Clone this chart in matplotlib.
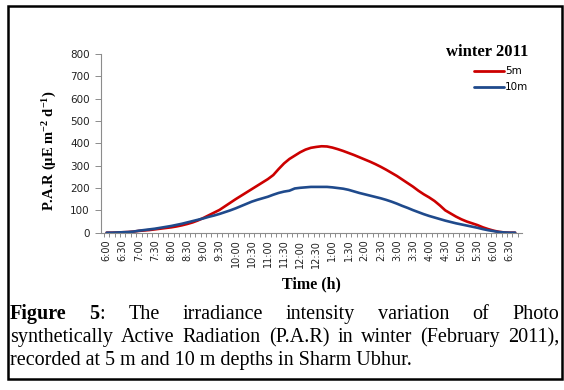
import matplotlib
matplotlib.use('Agg')
import matplotlib.pyplot as plt
from matplotlib.patches import Rectangle
import numpy as np

######################################################################################################################
# dados (intervalo de 10 min, 6:00 ate 18:40) #
categorias = [f"{(6 + m // 60 - 1) % 12 + 1}:{m % 60:02d}" for m in range(0, 770, 10)]

par_5m = [0, 0, 1, 2, 3, 5, 8, 10, 12, 15, 18, 21, 24, 28, 33, 39, 46, 55, 66, 78,
          90, 102, 118, 134, 150, 165, 180, 195, 210, 225, 240, 258, 285, 310, 330, 345, 360, 372, 380, 384,
          387, 386, 381, 374, 366, 357, 348, 338, 328, 318, 307, 295, 282, 268, 254, 238, 222, 206, 188, 172,
          158, 142, 122, 100, 86, 72, 60, 50, 42, 34, 24, 16, 9, 4, 1, 0, 0]

par_10m = [0, 0, 1, 2, 3, 5, 9, 12, 15, 18, 22, 26, 30, 35, 40, 46, 52, 58, 64, 71,
           77, 84, 92, 100, 109, 119, 129, 139, 147, 154, 161, 170, 178, 184, 188, 198, 201, 203, 205, 205,
           205, 205, 203, 200, 197, 192, 185, 178, 172, 166, 160, 154, 147, 139, 130, 120, 111, 101, 92, 83,
           75, 68, 61, 54, 48, 42, 37, 32, 27, 22, 16, 11, 7, 3, 1, 0, 0]

rotulos_x = ['6:00', '6:30', '7:00', '7:30', '8:00', '8:30', '9:00', '9:30', '10:00', '10:30',
             '11:00', '11:30', '12:00', '12:30', '1:00', '1:30', '2:00', '2:30', '3:00', '3:30',
             '4:00', '4:30', '5:00', '5:30', '6:00', '6:30']
rotulos_y = [0, 100, 200, 300, 400, 500, 600, 700, 800]

legenda_titulo = 'winter 2011'
series_nomes = ['5m', '10m']

legenda_linhas = [
    [[('Figure', 'bold')], [('5', 'bold'), (':', 'normal')], [('The', 'normal')], [('irradiance', 'normal')],
     [('intensity', 'normal')], [('variation', 'normal')], [('of', 'normal')], [('Photo', 'normal')]],
    [[('synthetically', 'normal')], [('Active', 'normal')], [('Radiation', 'normal')], [('(P.A.R)', 'normal')],
     [('in', 'normal')], [('winter', 'normal')], [('(February', 'normal')], [('2011),', 'normal')]],
]
legenda_ultima = 'recorded at 5 m and 10 m depths in Sharm Ubhur.'

######################################################################################################################
# FIGURA #
W, H = 564, 390
plt.rcParams['mathtext.fontset'] = 'custom'
plt.rcParams['mathtext.rm'] = 'Liberation Serif:bold'
plt.rcParams['mathtext.it'] = 'Liberation Serif:bold'
plt.rcParams['mathtext.bf'] = 'Liberation Serif:bold'

fig = plt.figure(figsize=(W / 100, H / 100), dpi=100)
ax = fig.add_axes([100.7 / W, 1 - 232.7 / H, (521.6 - 100.7) / W, (232.7 - 54) / H])

x = np.arange(len(categorias))
ax.plot(x, par_5m, color='#CC0000', lw=1.9, label=series_nomes[0], solid_capstyle='round')
ax.plot(x, par_10m, color='#1F4A8C', lw=1.9, label=series_nomes[1], solid_capstyle='round')

ax.set_xlim(-1.1, 77.2)
ax.set_ylim(0, 800)

ax.set_yticks(rotulos_y)
ax.set_yticklabels([str(v) for v in rotulos_y], fontsize=7.5, family='DejaVu Sans', color='#222222')
ax.set_xticks(x[::3][:len(rotulos_x)])
ax.set_xticklabels(rotulos_x, rotation=90, fontsize=7, family='DejaVu Sans', color='#222222')
ax.set_xticks(np.arange(-0.5, 77, 1), minor=True)
ax.tick_params(axis='x', which='major', length=0, pad=5)
ax.tick_params(axis='x', which='minor', length=3, width=0.7, color='#8C8C8C')
ax.tick_params(axis='y', length=4, width=0.7, color='#8C8C8C', pad=4)

for lado in ['top', 'right']:
    ax.spines[lado].set_visible(False)
for lado in ['left', 'bottom']:
    ax.spines[lado].set_color('#8C8C8C')
    ax.spines[lado].set_linewidth(0.8)

# rotulos dos eixos #
ax.set_ylabel('P.A.R (\u03bcE m$^{-2}$ d$^{-1}$)', family='Liberation Serif', fontweight='bold', fontsize=10.5)
ax.yaxis.set_label_coords(-0.10, 0.46)
ax.set_xlabel('Time (h)', family='Liberation Serif', fontweight='bold', fontsize=11.5)
ax.xaxis.set_label_coords(0.5, (232.7 - 292) / (232.7 - 54))
ax.xaxis.label.set_va('bottom')

# legenda #
leg = ax.legend(title=legenda_titulo, loc='upper right', bbox_to_anchor=(528 / W, 1 - 44 / H),
                bbox_transform=fig.transFigure, frameon=False, handlelength=2.9, handletextpad=0.1,
                labelspacing=0.6, borderpad=0, borderaxespad=0, alignment='right',
                prop={'family': 'DejaVu Sans', 'size': 7.5},
                title_fontproperties={'family': 'Liberation Serif', 'weight': 'bold', 'size': 12})
for linha in leg.get_lines():
    linha.set_linewidth(2.0)

######################################################################################################################
# legenda da figura (texto justificado) #
fonte_cap = 14.5
r = fig.canvas.get_renderer()


def linha_justificada(palavras, x0, x1, yb):
    objs = []
    larguras = []
    for palavra in palavras:
        pecas = []
        total = 0
        for texto, peso in palavra:
            t = fig.text(0, 1 - yb / H, texto, family='Liberation Serif', fontweight=peso,
                         fontsize=fonte_cap, va='baseline', ha='left')
            w = t.get_window_extent(r).width
            pecas.append((t, total))
            total += w
        objs.append(pecas)
        larguras.append(total)
    gap = (x1 - x0 - sum(larguras)) / (len(palavras) - 1)
    pos = x0
    for pecas, w in zip(objs, larguras):
        for t, dx in pecas:
            t.set_x((pos + dx) / W)
        pos += w + gap


linha_justificada(legenda_linhas[0], 10, 559, 319)
linha_justificada(legenda_linhas[1], 10, 559, 342)
fig.text(10 / W, 1 - 365 / H, legenda_ultima, family='Liberation Serif', fontsize=fonte_cap,
         va='baseline', ha='left')

# moldura #
fig.patches.append(Rectangle((8 / W, 1 - 379 / H), (562 - 8) / W, (379 - 6) / H, transform=fig.transFigure,
                             fill=False, edgecolor='black', lw=1.8))

fig.savefig('out.png', dpi=100)
